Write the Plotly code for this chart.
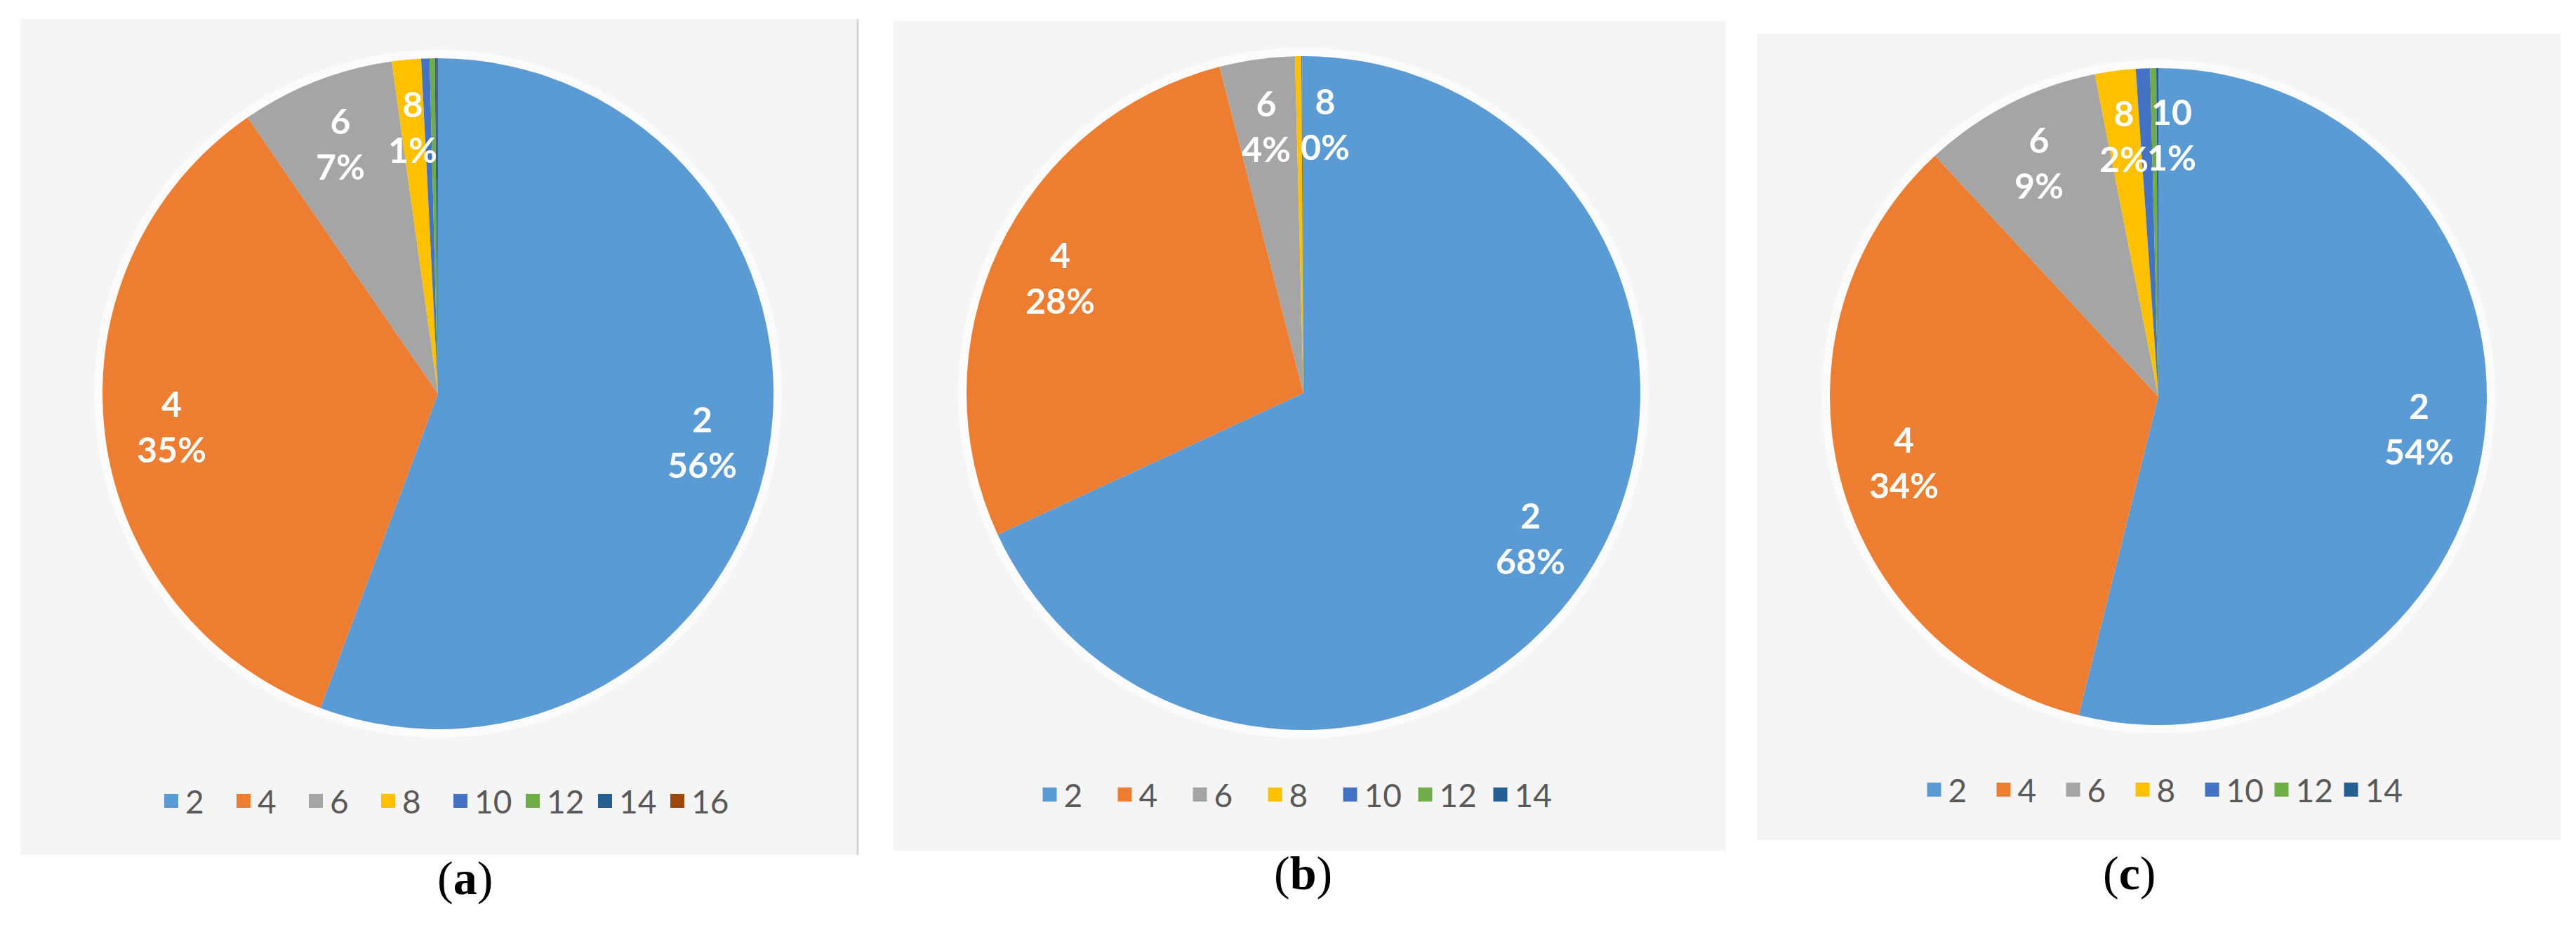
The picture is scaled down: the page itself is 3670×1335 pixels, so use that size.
import math
import plotly.graph_objects as go

W, H = 3670, 1335

# données (pourcentages par catégorie)
labels_a = ["2", "4", "6", "8", "10", "12", "14", "16"]
values_a = [55.7, 34.7, 7.4, 1.4, 0.4, 0.25, 0.1, 0.05]

labels_b = ["2", "4", "6", "8", "10", "12", "14"]
values_b = [68.1, 27.9, 3.6, 0.3, 0.05, 0.03, 0.02]

labels_c = ["2", "4", "6", "8", "10", "12", "14"]
values_c = [53.9, 34.2, 8.8, 2.0, 0.7, 0.3, 0.1]

# nombre de tranches étiquetées sur chaque camembert
shown_a, shown_b, shown_c = 4, 4, 5

colors = ["#5B9BD5", "#ED7D31", "#A5A5A5", "#FFC000",
          "#4472C4", "#70AD47", "#255E91", "#9E480E"]

# centre (px) et rayon (px) de chaque camembert, boîte de fond, légende
panels = [
    dict(labels=labels_a, values=values_a, shown=shown_a, cx=616, cy=553, r=478,
         box=(21, 19, 1214, 1210), leg="legend", leg_x=628, leg_y=1133, entry=58,
         tag="a", tag_x=613, tag_y=1283, left_anchor=[]),
    dict(labels=labels_b, values=values_b, shown=shown_b, cx=1849, cy=552, r=480,
         box=(1265, 22, 2451, 1204), leg="legend2", leg_x=1842, leg_y=1124, entry=62,
         tag="b", tag_x=1849, tag_y=1276, left_anchor=[3]),
    dict(labels=labels_c, values=values_c, shown=shown_c, cx=3067, cy=557, r=468,
         box=(2495, 40, 3640, 1189), leg="legend3", leg_x=3074, leg_y=1117, entry=54,
         tag="c", tag_x=3066, tag_y=1276, left_anchor=[4]),
]

fig = go.Figure()
shapes = []
annotations = []
legends = {}

for k, p in enumerate(panels):
    x0, y0, x1, y1 = p["box"]
    # fond gris clair
    shapes.append(dict(type="rect", xref="paper", yref="paper", layer="below",
                       x0=x0 / W, x1=x1 / W, y0=1 - y1 / H, y1=1 - y0 / H,
                       fillcolor="#F5F5F5", line=dict(width=0)))
    # halo blanc autour du camembert
    shapes.append(dict(type="circle", xref="paper", yref="paper", layer="below",
                       xsizemode="pixel", ysizemode="pixel",
                       xanchor=p["cx"] / W, yanchor=1 - p["cy"] / H,
                       x0=-p["r"] - 12, x1=p["r"] + 12, y0=-p["r"] - 12, y1=p["r"] + 12,
                       fillcolor="rgba(255,255,255,0.6)", line=dict(width=0)))

    cx, cy, r = p["cx"], p["cy"], p["r"]
    fig.add_trace(go.Pie(
        labels=p["labels"], values=p["values"], sort=False,
        direction="clockwise", rotation=0,
        marker=dict(colors=colors[:len(p["labels"])], line=dict(width=0)),
        textinfo="none", hoverinfo="label+percent",
        domain=dict(x=[(cx - r) / W, (cx + r) / W], y=[1 - (cy + r) / H, 1 - (cy - r) / H]),
        showlegend=False,
    ))

    # légende : carrés plus grands que ceux du camembert, via des traces vides
    for lab, col in zip(p["labels"], colors):
        fig.add_trace(go.Scatter(
            x=[None], y=[None], mode="markers", name=lab, legend=p["leg"],
            marker=dict(symbol="square", size=16, color=col, line=dict(color=col, width=4)),
            hoverinfo="skip",
        ))

    legends[p["leg"]] = dict(
        orientation="h", x=p["leg_x"] / W, xanchor="center",
        y=1 - p["leg_y"] / H, yanchor="middle",
        font=dict(family="Lato", size=46, color="#595959"),
        bgcolor="rgba(0,0,0,0)", entrywidth=p["entry"], entrywidthmode="pixels",
        traceorder="normal", itemsizing="trace",
    )

    # étiquettes de données (catégorie + pourcentage) à 80 % du rayon
    total = sum(p["values"])
    cum = 0.0
    for i, (lab, v) in enumerate(zip(p["labels"], p["values"])):
        mid = (cum + v / 2) / total
        cum += v
        if i >= p["shown"]:
            continue
        th = 2 * math.pi * mid
        px = cx + 0.8 * r * math.sin(th)
        py = cy - 0.8 * r * math.cos(th)
        pct = int(v / total * 100 + 0.5)
        annotations.append(dict(
            x=px / W, y=1 - py / H, xref="paper", yref="paper",
            text=f"{lab}<br>{pct}%", showarrow=False,
            xanchor="left" if i in p["left_anchor"] else "center", yanchor="middle",
            font=dict(family="Lato", size=50, color="white", weight="bold"),
        ))

    annotations.append(dict(
        x=p["tag_x"] / W, y=1 - p["tag_y"] / H, xref="paper", yref="paper",
        text=f"(<b>{p['tag']}</b>)", showarrow=False,
        font=dict(family="Liberation Serif", size=68, color="black"),
    ))

# trait de séparation à droite du panneau (a)
shapes.append(dict(type="line", xref="paper", yref="paper",
                   x0=1214 / W, x1=1214 / W, y0=1 - 1210 / H, y1=1 - 19 / H,
                   line=dict(color="#D6D6D6", width=3)))

fig.update_layout(
    width=W, height=H,
    margin=dict(l=0, r=0, t=0, b=0),
    paper_bgcolor="white", plot_bgcolor="rgba(0,0,0,0)",
    xaxis=dict(visible=False), yaxis=dict(visible=False),
    shapes=shapes, annotations=annotations,
    **legends,
)

fig.write_html("out.html")
